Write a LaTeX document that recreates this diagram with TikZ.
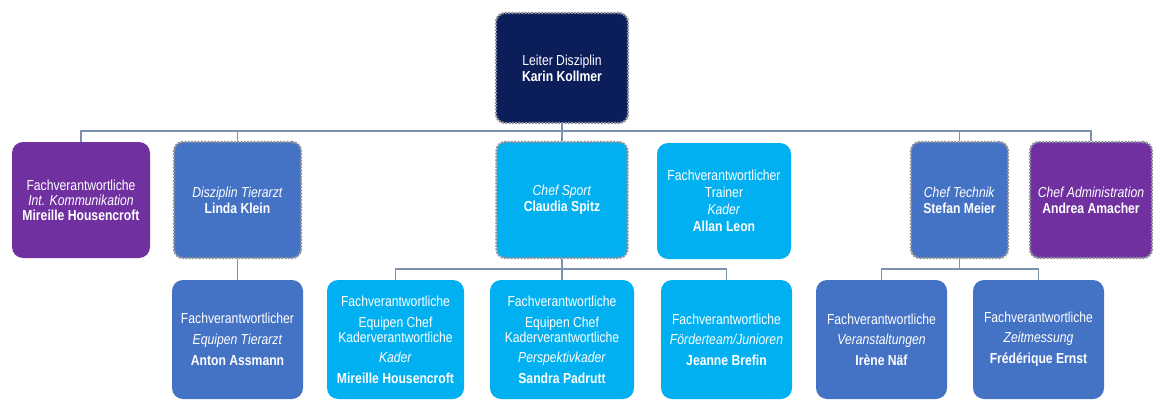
\documentclass[tikz,border=0pt]{standalone}
\usepackage{fontspec}
\setmainfont{Liberation Sans}[FakeStretch=0.84]
\definecolor{navy}{RGB}{12,30,90}
\definecolor{purp}{RGB}{112,48,160}
\definecolor{mblue}{RGB}{68,114,196}
\definecolor{lblue}{RGB}{0,176,240}
\definecolor{conn}{RGB}{125,145,175}
\definecolor{dashgray}{RGB}{140,145,155}
\tikzset{
  box/.style={rectangle, rounded corners=11pt, inner sep=0pt, align=center, text=white,
    font=\fontsize{14.5}{15}\selectfont},
  dbox/.style={box, rounded corners=9pt, draw=dashgray, line width=2.2pt, dash pattern=on 2pt off 1.3pt},
  sbox/.style={box},
  row2/.style={minimum height=116pt},
  row3/.style={minimum height=119pt},
  link/.style={draw=conn, line width=1.2pt},
}
\begin{document}
\begin{tikzpicture}[x=1pt,y=-1pt]
\fill[white] (0,0) rectangle (1153,401);
\useasboundingbox (0,0) rectangle (1153,401);
% top
\node[dbox, fill=navy, minimum width=132pt, minimum height=110pt] (karin) at (562,68)
  {Leiter Disziplin\\[1pt]\textbf{Karin Kollmer}};
% row 2
\node[sbox, row2, fill=purp, minimum width=138pt] (mh1) at (81,200)
  {Fachverantwortliche\\\textit{Int. Kommunikation}\\\textbf{Mireille Housencroft}};
\node[dbox, row2, fill=mblue, minimum width=127pt] (linda) at (237.5,200)
  {\textit{Disziplin Tierarzt}\\[1pt]\textbf{Linda Klein}};
\node[dbox, row2, fill=lblue, minimum width=131pt] (claudia) at (562,200)
  {\textit{Chef Sport}\\[1pt]\textbf{Claudia Spitz}};
\node[sbox, row2, fill=lblue, minimum width=134pt] (allan) at (724,201)
  {Fachverantwortlicher\\[2pt]Trainer\\[2pt]\textit{Kader}\\[2pt]\textbf{Allan Leon}};
\node[dbox, row2, fill=mblue, minimum width=97pt] (stefan) at (959.5,200)
  {\textit{Chef Technik}\\[1pt]\textbf{Stefan Meier}};
\node[dbox, row2, fill=purp, minimum width=122pt] (andrea) at (1091,200)
  {\textit{Chef Administration}\\[1pt]\textbf{Andrea Amacher}};
% row 3
\node[sbox, row3, fill=mblue, minimum width=131pt] (anton) at (237.5,339.5)
  {Fachverantwortlicher\\[6pt]\textit{Equipen Tierarzt}\\[6pt]\textbf{Anton Assmann}};
\node[sbox, row3, fill=lblue, minimum width=137pt] (mh2) at (395.5,339.5)
  {Fachverantwortliche\\[6pt]Equipen Chef\\Kaderverantwortliche\\[5pt]\textit{Kader}\\[6pt]\textbf{Mireille Housencroft}};
\node[sbox, row3, fill=lblue, minimum width=144pt] (sandra) at (562,339.5)
  {Fachverantwortliche\\[6pt]Equipen Chef\\Kaderverantwortliche\\[5pt]\textit{Perspektivkader}\\[6pt]\textbf{Sandra Padrutt}};
\node[sbox, row3, fill=lblue, minimum width=131pt] (jeanne) at (726.5,339.5)
  {Fachverantwortliche\\[5pt]\textit{Förderteam/Junioren}\\[6pt]\textbf{Jeanne Brefin}};
\node[sbox, row3, fill=mblue, minimum width=131pt] (irene) at (881.5,339.5)
  {Fachverantwortliche\\[5pt]\textit{Veranstaltungen}\\[6pt]\textbf{Irène Näf}};
\node[sbox, row3, fill=mblue, minimum width=131pt] (fred) at (1038.5,339.5)
  {Fachverantwortliche\\[5pt]\textit{Zeitmessung}\\[6pt]\textbf{Frédérique Ernst}};
% buses
\coordinate (bus1) at (0,131);
\coordinate (bus2) at (0,269);
\coordinate (bus3) at (0,269);
% connectors
\draw[link] (karin.south) -- (claudia.north);
\draw[link] (mh1.north) |- (bus1 -| andrea.north) -- (andrea.north);
\draw[link] (linda.north) -- (linda.north |- bus1);
\draw[link] (stefan.north) -- (stefan.north |- bus1);
\draw[link] (linda.south) -- (anton.north);
\draw[link] (claudia.south) -- (sandra.north);
\draw[link] (mh2.north) |- (bus2 -| jeanne.north) -- (jeanne.north);
\draw[link] (stefan.south) -- (stefan.south |- bus3);
\draw[link] (irene.north) |- (bus3 -| fred.north) -- (fred.north);
\end{tikzpicture}
\end{document}
